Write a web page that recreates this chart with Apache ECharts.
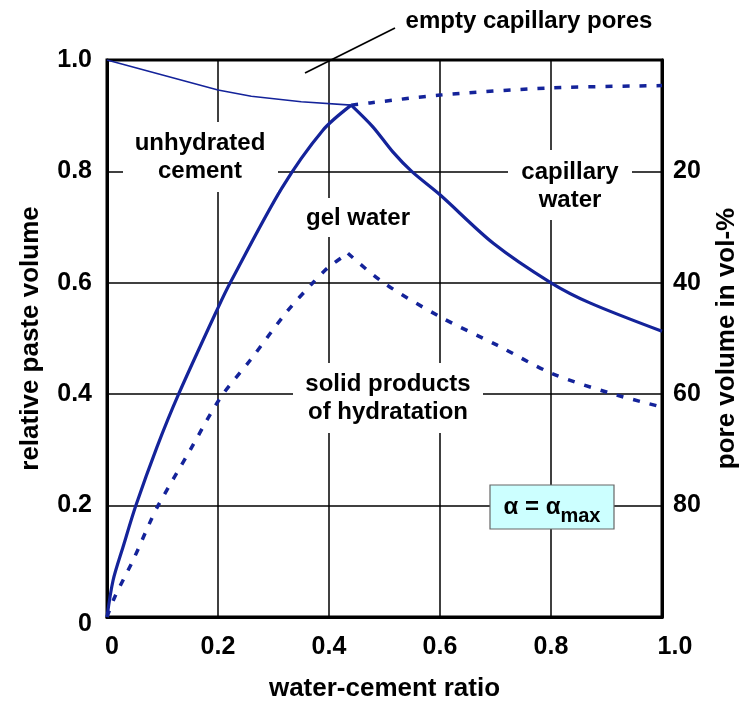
<!DOCTYPE html>
<html>
<head>
<meta charset="utf-8">
<script src="https://cdn.jsdelivr.net/npm/echarts@6/dist/echarts.min.js"></script>
<style>html,body{margin:0;padding:0;background:#fff;overflow:hidden;}#c{width:741px;height:702px;}</style>
</head>
<body>
<div id="c"></div>
<script>
// ---- data ----
const xTicks = [0, 0.2, 0.4, 0.6, 0.8, 1.0];
const yTicks = [0, 0.2, 0.4, 0.6, 0.8, 1.0];
const poreTicks = [20, 40, 60, 80];

// thin line: boundary of unhydrated cement / empty capillary pores
const unhydX = [0, 0.1, 0.2, 0.26, 0.35, 0.44];
const unhydY = [1.0, 0.973, 0.946, 0.935, 0.925, 0.919];

// thick solid line, rising part (up to the peak at w/c = 0.44)
const solidUpX = [0, 0.011, 0.029, 0.052, 0.09, 0.129, 0.2, 0.222, 0.315, 0.389, 0.44];
const solidUpY = [0, 0.066, 0.126, 0.2, 0.305, 0.4, 0.555, 0.6, 0.77, 0.874, 0.919];
// thick solid line, falling part
const solidDownX = [0.44, 0.479, 0.515, 0.549, 0.6, 0.696, 0.8, 0.87, 1.0];
const solidDownY = [0.919, 0.88, 0.835, 0.8, 0.758, 0.671, 0.6, 0.564, 0.513];

// dotted line: solid products of hydration, rising part
const prodUpX = [0, 0.014, 0.047, 0.077, 0.092, 0.15, 0.204, 0.258, 0.324, 0.371, 0.398, 0.434];
const prodUpY = [0, 0.036, 0.102, 0.169, 0.2, 0.3, 0.393, 0.461, 0.548, 0.6, 0.627, 0.653];
// dotted line: solid products of hydration, falling part
const prodDownX = [0.434, 0.497, 0.6, 0.703, 0.8, 0.906, 1.0];
const prodDownY = [0.653, 0.601, 0.539, 0.488, 0.438, 0.402, 0.377];

// dotted line: capillary water / empty pores
const capX = [0.44, 0.474, 0.6, 0.8, 1.0];
const capY = [0.919, 0.923, 0.937, 0.95, 0.954];

const pair = (xs, ys) => xs.map((x, i) => [x, ys[i]]);

const BLUE = '#14239a';
const FONT = 'Liberation Sans, Arial, Helvetica, sans-serif';

const chart = echarts.init(document.getElementById('c'), null, {renderer: 'canvas'});

function boxLabel(cx, cy, x0, y0, x1, y1, text) {
  return {
    type: 'group',
    children: [
      {type: 'rect', shape: {x: x0, y: y0, width: x1 - x0, height: y1 - y0}, style: {fill: '#fff'}, z: 5},
      {type: 'text', x: cx, y: cy, style: {text: text, fill: '#000', font: 'bold 24px ' + FONT, align: 'center', verticalAlign: 'middle', lineHeight: 28}, z: 6}
    ]
  };
}

const lbl = {fontWeight: 'bold', color: '#000', fontFamily: FONT};
const solidStyle = {color: BLUE, width: 3.2};
const dashStyle = {color: BLUE, width: 3.5, type: [7, 10]};

const option = {
  backgroundColor: '#fff',
  animation: false,
  grid: {left: 107, right: 79, top: 60, bottom: 85, outerBoundsMode: 'none', containLabel: false,
         show: true, borderColor: '#000', borderWidth: 3, backgroundColor: 'transparent'},
  xAxis: {
    type: 'value', min: 0, max: 1, interval: 0.2,
    name: 'water-cement ratio', nameLocation: 'middle', nameGap: 59,
    nameTextStyle: Object.assign({fontSize: 26}, lbl),
    axisLine: {show: true, lineStyle: {color: '#000', width: 3}},
    axisTick: {show: false},
    axisLabel: Object.assign({
      margin: 18, fontSize: 25,
      formatter: v => v === 1 ? '{r|1.0}' : (v === 0 ? '{zx|0}' : v.toFixed(1)),
      rich: {
        r: Object.assign({fontSize: 25, padding: [0, 0, 0, 26]}, lbl),
        zx: Object.assign({fontSize: 25, padding: [0, 0, 0, 10]}, lbl)
      }
    }, lbl),
    splitLine: {show: true, lineStyle: {color: '#000', width: 1.5}}
  },
  yAxis: [
    {
      type: 'value', min: 0, max: 1, interval: 0.2, position: 'left',
      name: 'relative paste volume', nameLocation: 'middle', nameGap: 63, nameRotate: 90,
      nameTextStyle: Object.assign({fontSize: 26}, lbl),
      axisLine: {show: true, lineStyle: {color: '#000', width: 3}},
      axisTick: {show: false},
      axisLabel: Object.assign({
        margin: 15, fontSize: 25,
        formatter: v => v === 0 ? '{z|0}' : (v === 1 ? '1.0' : v.toFixed(1)),
        rich: {z: Object.assign({fontSize: 25, padding: [14, 0, 0, 0]}, lbl)}
      }, lbl),
      splitLine: {show: true, lineStyle: {color: '#000', width: 1.5}}
    },
    {
      type: 'value', min: 0, max: 100, interval: 20, inverse: true, position: 'right',
      name: 'pore volume in vol-%', nameLocation: 'middle', nameGap: 52, nameRotate: 90,
      nameTextStyle: Object.assign({fontSize: 26}, lbl),
      axisLine: {show: true, lineStyle: {color: '#000', width: 3}},
      axisTick: {show: false},
      axisLabel: Object.assign({
        margin: 11, fontSize: 25,
        formatter: v => poreTicks.indexOf(v) >= 0 ? String(v) : ''
      }, lbl),
      splitLine: {show: false}
    }
  ],
  series: [
    {type: 'line', data: pair(unhydX, unhydY), symbol: 'none', lineStyle: {color: BLUE, width: 1.6}, z: 3},
    {type: 'line', data: pair(solidUpX, solidUpY), symbol: 'none', smooth: 0.3, lineStyle: solidStyle, z: 3},
    {type: 'line', data: pair(solidDownX, solidDownY), symbol: 'none', smooth: 0.3, lineStyle: solidStyle, z: 3},
    {type: 'line', data: pair(prodUpX, prodUpY), symbol: 'none', smooth: 0.3, lineStyle: dashStyle, z: 3},
    {type: 'line', data: pair(prodDownX, prodDownY), symbol: 'none', smooth: 0.3, lineStyle: dashStyle, z: 3},
    {type: 'line', data: pair(capX, capY), symbol: 'none', smooth: 0.3, lineStyle: dashStyle, z: 3}
  ],
  graphic: [
    boxLabel(200, 157, 123, 122, 278, 192, 'unhydrated\ncement'),
    boxLabel(358, 218, 300, 198, 416, 237, 'gel water'),
    boxLabel(570, 186, 508, 150, 632, 220, 'capillary\nwater'),
    boxLabel(388, 398, 293, 363, 483, 433, 'solid products\nof hydratation'),
    {type: 'text', x: 529, y: 21, style: {text: 'empty capillary pores', fill: '#000', font: 'bold 24px ' + FONT, align: 'center', verticalAlign: 'middle'}, z: 6},
    {type: 'line', shape: {x1: 305, y1: 73, x2: 395, y2: 28}, style: {stroke: '#000', lineWidth: 1.8}, z: 6},
    {type: 'rect', shape: {x: 490, y: 485, width: 124, height: 44}, style: {fill: '#ccffff', stroke: '#666', lineWidth: 1.2}, z: 5},
    {type: 'text', x: 552, y: 507, z: 6, style: {
      text: '{a|α = α}{s|max}', align: 'center', verticalAlign: 'middle',
      rich: {
        a: {fontSize: 24, fontWeight: 'bold', fontFamily: FONT, fill: '#000', color: '#000', lineHeight: 30},
        s: {fontSize: 20, fontWeight: 'bold', fontFamily: FONT, fill: '#000', color: '#000', padding: [18, 0, 0, 0]}
      }
    }}
  ]
};
chart.setOption(option);
</script>
</body>
</html>
